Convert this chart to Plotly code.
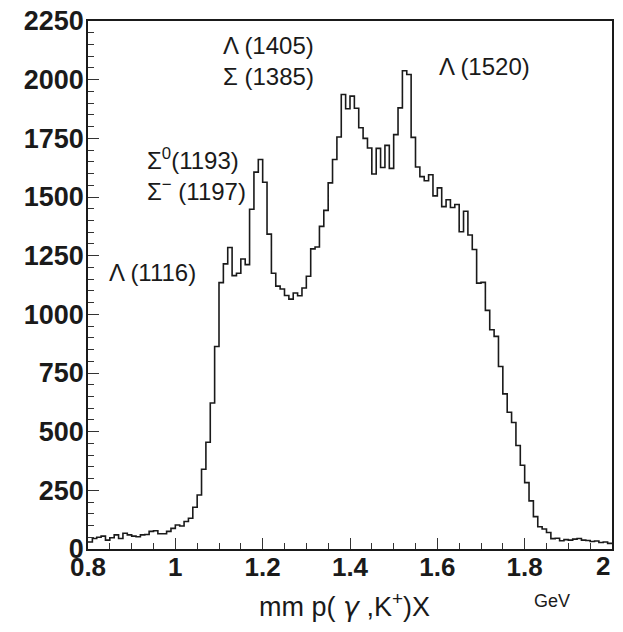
import numpy as np
import plotly.graph_objects as go

# Histogram: missing mass spectrum, bins of 0.01 GeV from 0.80 to 2.00
bin_start = 0.80
bin_width = 0.01
counts = [
    30, 45, 50, 55, 38, 48, 60, 45, 67, 60,          # 0.80-0.89
    55, 52, 60, 62, 75, 78, 65, 65, 75, 88,          # 0.90-0.99
    102, 98, 117, 131, 178, 230, 340, 455, 622, 863, # 1.00-1.09
    1135, 1215, 1285, 1165, 1175, 1236, 1212, 1448, 1606, 1660,  # 1.10-1.19
    1563, 1342, 1175, 1120, 1108, 1080, 1065, 1091, 1079, 1112,  # 1.20-1.29
    1162, 1279, 1287, 1375, 1443, 1560, 1660, 1756, 1937, 1876,  # 1.30-1.39
    1930, 1878, 1795, 1750, 1709, 1598, 1707, 1626, 1720, 1622,  # 1.40-1.49
    1766, 1880, 2038, 2022, 1754, 1628, 1587, 1569, 1595, 1505,  # 1.50-1.59
    1539, 1459, 1488, 1455, 1468, 1352, 1439, 1338, 1276, 1133,  # 1.60-1.69
    1136, 1017, 934, 906, 778, 661, 583, 539, 441, 357,          # 1.70-1.79
    283, 205, 138, 95, 85, 70, 44, 46, 35, 40,                   # 1.80-1.89
    38, 42, 45, 38, 36, 32, 34, 28, 30, 24,                      # 1.90-1.99
]

x_tickvals = [0.8, 1.0, 1.2, 1.4, 1.6, 1.8, 2.0]
x_ticktext = ["0.8", "1", "1.2", "1.4", "1.6", "1.8", "2"]

# Resonance labels (text, x anchor in GeV, y in counts)
label_texts = ["Λ (1116)", "Σ<sup>0</sup>(1193)", "Σ<sup>−</sup> (1197)",
               "Λ (1405)", "Σ (1385)", "Λ (1520)"]
label_x = [0.8435, 0.9305, 0.9305, 1.1046, 1.1046, 1.599]
label_y = [1180, 1662, 1530, 2147, 2015, 2058]

x_title = "mm p( <span style='font-family:DejaVu Sans'><i>γ</i></span> ,K<sup>+</sup>)X"
x_unit = "GeV"

edges = bin_start + bin_width * np.arange(len(counts) + 1)
xs = list(edges)
ys = counts + [counts[-1]]

fig = go.Figure()
fig.add_trace(go.Scatter(
    x=xs, y=ys, mode="lines", line_shape="hv",
    line=dict(color="#1a1a1a", width=1.6), showlegend=False,
    hoverinfo="skip",
))

FONT = "Liberation Sans, Arial, sans-serif"
xtickfont = dict(family=FONT, size=26, color="#1a1a1a", weight="bold")
ytickfont = dict(family=FONT, size=27, color="#1a1a1a", weight="bold")

fig.update_layout(
    width=623, height=632,
    margin=dict(l=88, r=11, t=21, b=83),
    paper_bgcolor="white", plot_bgcolor="white",
    xaxis=dict(
        range=[0.8, 2.0], tickvals=x_tickvals[:-1], ticktext=x_ticktext[:-1],
        ticks="inside", ticklen=11, tickwidth=1.2, tickcolor="#333",
        minor=dict(dtick=0.05, tick0=0.8, ticks="inside", ticklen=6, tickwidth=1.2, tickcolor="#333"),
        showline=True, linecolor="#1a1a1a", linewidth=1.5, mirror=True,
        showgrid=False, zeroline=False, tickfont=xtickfont, ticklabelstandoff=-6,
        automargin=False, ticklabeloverflow="allow",
    ),
    yaxis=dict(
        range=[0, 2250], tick0=0, dtick=250, ticks="inside", ticklen=11,
        tickwidth=1.2, tickcolor="#333",
        minor=dict(dtick=50, ticks="inside", ticklen=6, tickwidth=1.2, tickcolor="#333"),
        showline=True, linecolor="#1a1a1a", linewidth=1.5, mirror=True,
        showgrid=False, zeroline=False, tickfont=ytickfont, ticklabelstandoff=-3,
        automargin=False, ticklabeloverflow="allow",
    ),
)

# Label of the last x tick, kept inside the frame's right edge
fig.add_annotation(x=x_tickvals[-1], y=0, xref="x", yref="paper", text=x_ticktext[-1],
                   showarrow=False, xanchor="right", yanchor="top", yshift=0,
                   font=xtickfont)

for t, x, y in zip(label_texts, label_x, label_y):
    fig.add_annotation(x=x, y=y, xref="x", yref="y", text=t, showarrow=False,
                       xanchor="left", yanchor="middle",
                       font=dict(family=FONT, size=24, color="#1a1a1a"))

fig.add_annotation(x=0.49, y=-0.107, xref="paper", yref="paper", text=x_title,
                   showarrow=False, xanchor="center", yanchor="middle",
                   font=dict(family=FONT, size=27, color="#1a1a1a"))
fig.add_annotation(x=0.885, y=-0.098, xref="paper", yref="paper", text=x_unit,
                   showarrow=False, xanchor="center", yanchor="middle",
                   font=dict(family=FONT, size=18, color="#1a1a1a"))

fig.write_html("out.html", config={"displayModeBar": False},
               post_script="document.body.style.margin='0';")
